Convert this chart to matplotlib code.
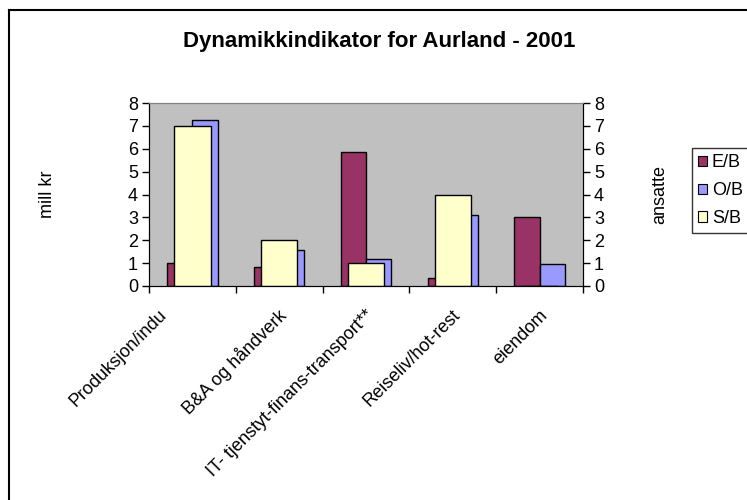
import matplotlib
matplotlib.use("Agg")
import matplotlib.pyplot as plt
import matplotlib.transforms as mtransforms
from matplotlib.lines import Line2D
from matplotlib.patches import Patch
import numpy as np

plt.rcParams['font.family'] = ['Liberation Sans', 'DejaVu Sans']

# data
categories = ['Produksjon/indu', 'B&A og håndverk', 'IT- tjenstyt-finans-transport**',
              'Reiseliv/hot-rest', 'eiendom']
eb = [1.0, 0.82, 5.86, 0.37, 3.0]      # mill kr
ob = [7.25, 1.58, 1.2, 3.11, 0.96]     # mill kr
sb = [7.0, 2.0, 1.0, 4.0, 0.0]         # ansatte (secondary axis)
series_names = ['E/B', 'O/B', 'S/B']

c_eb = '#993366'
c_ob = '#9999FF'
c_sb = '#FFFFCC'

W, H = 747, 500
fs = 13
fig = plt.figure(figsize=(W / 100, H / 100), dpi=100)

# plot area in pixels
left, right, top, bottom = 149, 583, 103, 286
ax = fig.add_axes([left / W, 1 - bottom / H, (right - left) / W, (bottom - top) / H])
ax2 = ax.twinx()

x = np.arange(len(categories))
bw = 0.29
ax.bar(x - bw / 2, eb, width=bw, color=c_eb, edgecolor='black', linewidth=1)
ax.bar(x + bw / 2, ob, width=bw, color=c_ob, edgecolor='black', linewidth=1)
ax2.bar(x, sb, width=0.42, color=c_sb, edgecolor='black', linewidth=1)

ax.set_facecolor('#C0C0C0')
ax2.patch.set_visible(False)
for a in (ax, ax2):
    a.set_xlim(-0.5, len(categories) - 0.5)
    a.set_ylim(0, 8)
    a.set_yticks(range(0, 9))
    a.spines['top'].set_color('#808080')
    a.tick_params(axis='y', labelsize=fs, length=5, width=1, pad=3)

# category ticks sit on the borders between groups
ax.set_xticks(np.arange(-0.5, len(categories), 1.0))
ax.set_xticklabels([])
ax.tick_params(axis='x', length=5, width=1)
ax.set_xticks(x, minor=True)
ax.set_xticklabels(categories, minor=True, rotation=45, ha='right', va='center',
                   rotation_mode='anchor', fontsize=fs)
ax.tick_params(axis='x', which='minor', length=0, pad=19)
for i, lab in enumerate(ax.get_xticklabels(minor=True)):
    # first label is clipped in the original, it ends well left of its group
    dx = -0.28 if i == 0 else 0.05
    lab.set_transform(lab.get_transform() +
                      mtransforms.ScaledTranslation(dx, 0.0, fig.dpi_scale_trans))

ax.set_ylabel('mill kr', fontsize=fs, labelpad=52)
ax2.set_ylabel('ansatte', fontsize=fs, labelpad=34)

fig.text(183 / W, 1 - 42 / H, 'Dynamikkindikator for Aurland - 2001',
         ha='left', va='center', fontsize=16, fontweight='bold')

# legend
handles = [Patch(facecolor=c, edgecolor='black', linewidth=0.8) for c in (c_eb, c_ob, c_sb)]
leg = fig.legend(handles, series_names, loc='upper left',
                 bbox_to_anchor=(692 / W, 1 - 148 / H), fontsize=fs,
                 frameon=True, fancybox=False, edgecolor='black',
                 handlelength=0.5, handleheight=0.5, handletextpad=0.25,
                 labelspacing=0.6, borderpad=0.35, borderaxespad=0)
leg.get_frame().set_linewidth(1)

# chart border (cut at right and bottom in the original)
fig.add_artist(Line2D([9 / W, 9 / W], [0, 1 - 10 / H], color='black', linewidth=1.5))
fig.add_artist(Line2D([9 / W, 1], [1 - 10 / H, 1 - 10 / H], color='black', linewidth=1.5))

fig.savefig('out.png', dpi=100)
